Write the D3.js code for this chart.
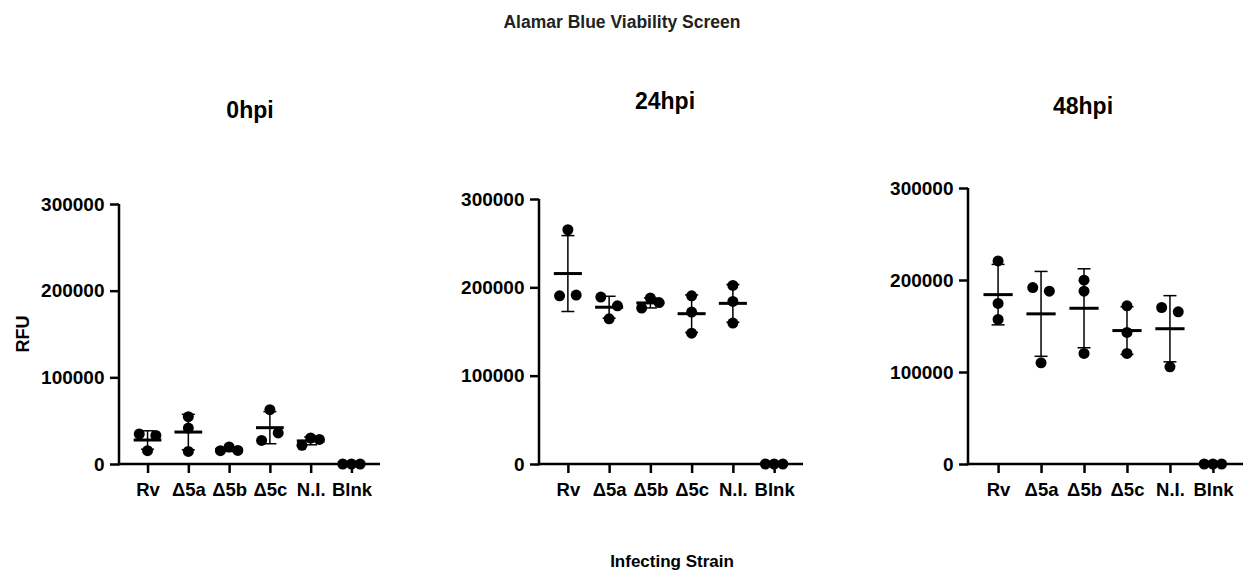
<!DOCTYPE html>
<html>
<head>
<meta charset="utf-8">
<script src="https://cdn.jsdelivr.net/npm/d3@7"></script>
<style>
  body { margin: 0; background: #fff; }
  text { font-family: "Liberation Sans", Arial, Helvetica, sans-serif; font-weight: bold; }
</style>
</head>
<body>
<div id="chart"></div>
<script>
var categories = ["Rv", "\u03945a", "\u03945b", "\u03945c", "N.I.", "Blnk"];
var panelTitles = ["0hpi", "24hpi", "48hpi"];
var yTicks = [0, 100000, 200000, 300000];

// replicate RFU readings per strain
var rfu0h = [
  [34600, 33000, 15400],
  [54600, 41500, 14500],
  [15400, 19600, 15700],
  [62700, 27200, 35800],
  [21500, 30000, 28400],
  [0, 0, 0]
];
var rfu24h = [
  [265200, 190400, 191200],
  [189000, 179100, 164400],
  [176500, 187800, 182800],
  [190400, 172000, 148100],
  [202100, 184000, 159500],
  [0, 0, 0]
];
var rfu48h = [
  [220700, 174500, 157100],
  [191800, 187800, 110000],
  [199800, 187800, 120200],
  [171900, 143000, 120200],
  [170100, 165400, 105600],
  [0, 0, 0]
];

var width = 1244, height = 574;
var svg = d3.select('#chart').append('svg').attr('width', width).attr('height', height);

// panel boxes (axis extents in px)
var layout = [
  {left: 119, right: 380, top: 204, bottom: 464, titleX: 250, titleY: 118},
  {left: 539, right: 803, top: 199, bottom: 464, titleX: 665, titleY: 109},
  {left: 968, right: 1243, top: 188, bottom: 464, titleX: 1083, titleY: 114}
];
var panelData = [rfu0h, rfu24h, rfu48h];

svg.append('text').attr('x', 622).attr('y', 28).attr('text-anchor', 'middle')
  .style('font-size', '17.5px').attr('fill', '#222').text('Alamar Blue Viability Screen');
svg.append('text').attr('x', 672).attr('y', 567).attr('text-anchor', 'middle')
  .style('font-size', '17px').text('Infecting Strain');
svg.append('text').attr('transform', 'translate(28.5,334) rotate(-90)').attr('text-anchor', 'middle')
  .style('font-size', '18px').text('RFU');

var R = 5.5;

panelData.forEach(function(data, p) {
  var L = layout[p];
  var g = svg.append('g');

  var x = d3.scalePoint().domain(categories).range([L.left, L.right]).padding(0.7);
  var y = d3.scaleLinear().domain([0, 300000]).range([L.bottom, L.top]);

  g.append('text').attr('x', L.titleX).attr('y', L.titleY).attr('text-anchor', 'middle')
    .style('font-size', '23px').text(panelTitles[p]);

  // y axis
  var ya = g.append('g').attr('transform', 'translate(' + L.left + ',0)')
    .call(d3.axisLeft(y).tickValues(yTicks).tickFormat(d3.format('d')).tickSizeInner(9).tickSizeOuter(0).tickPadding(5.5));
  // x axis
  var xa = g.append('g').attr('transform', 'translate(0,' + L.bottom + ')')
    .call(d3.axisBottom(x).tickSizeInner(9).tickSizeOuter(0).tickPadding(10));
  [ya, xa].forEach(function(a) {
    a.select('.domain').attr('stroke', '#000').attr('stroke-width', 2.5);
    a.selectAll('.tick line').attr('stroke', '#000').attr('stroke-width', 2.5);
    a.selectAll('text').attr('fill', '#000').style('font-family', '"Liberation Sans", Arial, sans-serif').style('font-weight', 'bold');
  });
  ya.selectAll('text').style('font-size', '19px');
  xa.selectAll('text').style('font-size', '18.5px');
  ya.select('.domain').attr('d', 'M0,' + L.top + 'V' + (L.bottom + 1.25));
  xa.select('.domain').attr('d', 'M' + (L.left - 1.25) + ',0H' + L.right);

  var mw = x.step() * 0.34, cw = 6.5;

  categories.forEach(function(c, i) {
    var vals = data[i];
    var cx = x(c);
    var m = d3.mean(vals), sd = d3.deviation(vals) || 0;

    // spread overlapping dots horizontally
    var order = d3.range(vals.length).sort(function(a, b) { return y(vals[a]) - y(vals[b]); });
    var clusters = [], cur = [order[0]];
    for (var k = 1; k < order.length; k++) {
      if (y(vals[order[k]]) - y(vals[order[k - 1]]) < 10) cur.push(order[k]);
      else { clusters.push(cur); cur = [order[k]]; }
    }
    clusters.push(cur);
    var off = vals.map(function() { return 0; });
    clusters.forEach(function(cl) {
      cl.sort(function(a, b) { return a - b; });
      var s = cl.length === 2 ? 16.6 : 8.7;
      cl.forEach(function(idx, j) { off[idx] = (j - (cl.length - 1) / 2) * s; });
    });

    g.selectAll(null).data(vals).enter().append('circle')
      .attr('cx', function(d, j) { return cx + off[j]; })
      .attr('cy', function(d) { return y(d); })
      .attr('r', R).attr('fill', '#000');

    if (sd > 0) {
      g.append('line').attr('x1', cx).attr('x2', cx).attr('y1', y(m - sd)).attr('y2', y(m + sd))
        .attr('stroke', '#000').attr('stroke-width', 1.5);
      [m - sd, m + sd].forEach(function(v) {
        g.append('line').attr('x1', cx - cw).attr('x2', cx + cw).attr('y1', y(v)).attr('y2', y(v))
          .attr('stroke', '#000').attr('stroke-width', 1.5);
      });
      g.append('line').attr('x1', cx - mw).attr('x2', cx + mw).attr('y1', y(m)).attr('y2', y(m))
        .attr('stroke', '#000').attr('stroke-width', 3);
    }
  });
});
</script>
</body>
</html>
